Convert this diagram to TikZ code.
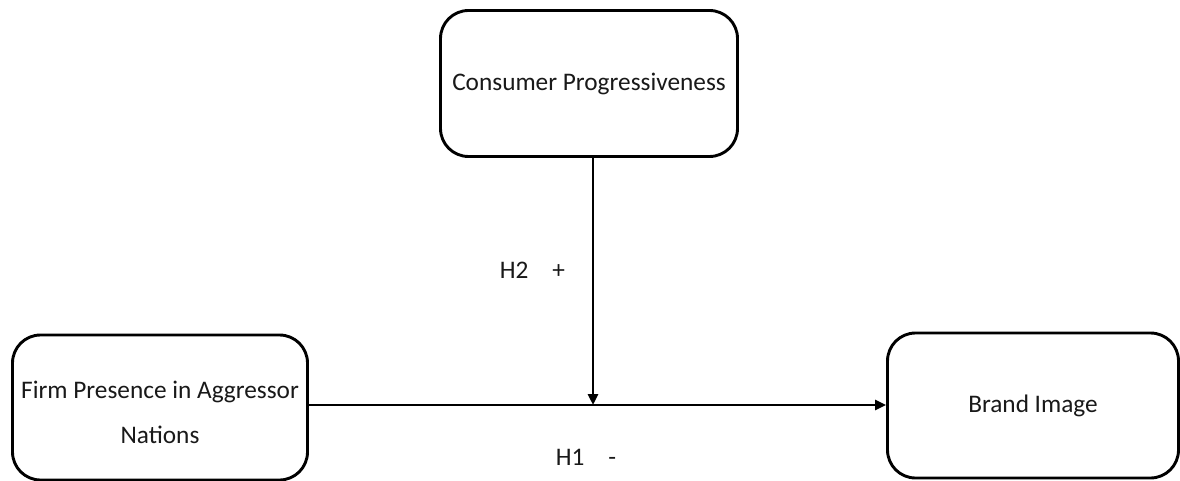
\documentclass[tikz,border=0pt]{standalone}
\usepackage{fontspec}
\setmainfont{Carlito}
\usetikzlibrary{arrows.meta}
\begin{document}
\begin{tikzpicture}[x=1pt,y=-1pt,
  box/.style={draw=black, line width=2.9pt, rounded corners=28pt, fill=white,
    inner sep=0pt, align=center, text=black!90,
    font=\fontsize{25.3}{45}\selectfont},
  conn/.style={line width=2.9pt, -{Triangle[length=11pt,width=10pt]}},
  lbl/.style={inner sep=0pt, text=black!90, font=\fontsize{25.3}{28}\selectfont}]
\useasboundingbox (0,0) rectangle (1180,481);
\node[box, minimum width=297pt, minimum height=146pt] (cp) at (589,83.5) {Consumer Progressiveness};
\node[box, minimum width=295pt, minimum height=145pt] (fp) at (160,407.5) {\rule{0pt}{28pt}Firm Presence in Aggressor\\Nations};
\node[box, minimum width=291pt, minimum height=145pt] (bi) at (1033,405.5) {Brand Image};
\coordinate (m) at (593,405);
\draw[conn] (fp.east |- m) -- (bi.west |- m);
\draw[conn] (cp.south -| m) -- (m);
\node[lbl] (h2) at (532.5,270.5) {H2\hspace{24pt}+};
\node[lbl] (h1) at (586,457) {H1\hspace{24pt}-};
\end{tikzpicture}
\end{document}
